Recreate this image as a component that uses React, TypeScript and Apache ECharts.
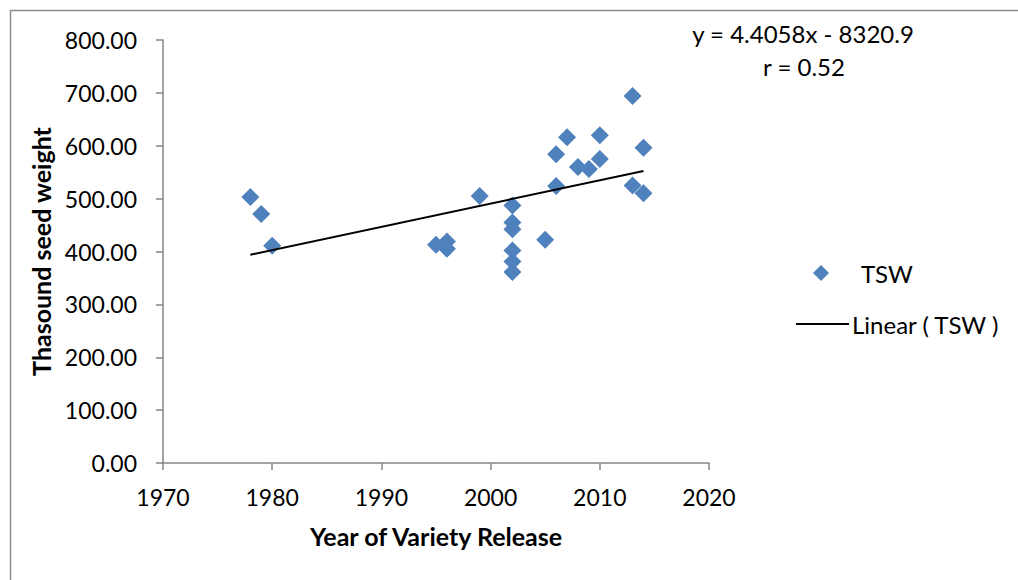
import React, { useEffect, useRef } from "react";
import * as echarts from "echarts";

// Release year of each variety and its thousand seed weight (g)
const releaseYears = [
  1978, 1979, 1980, 1995, 1996, 1996, 1999, 2002, 2002, 2002, 2002, 2002, 2002,
  2005, 2006, 2006, 2007, 2008, 2009, 2010, 2010, 2013, 2013, 2014, 2014,
];
const seedWeights = [
  503, 471, 411, 413, 419, 405, 505, 487, 455, 442, 402, 381, 361,
  422, 524, 584, 616, 560, 556, 575, 620, 694, 525, 596, 510,
];

// Linear trend fitted to the points
const trendSlope = 4.4058;
const trendIntercept = -8320.9;
const correlation = 0.52;

const FONT = "Lato, 'Open Sans', sans-serif";
const AXIS_GRAY = "#868686";
const MARKER_BLUE = "#4F81BD";

export default function App() {
  const ref = useRef<HTMLDivElement>(null);

  useEffect(() => {
    if (!ref.current) return;
    const chart = echarts.init(ref.current, undefined, { renderer: "svg" });

    const points = releaseYears.map((y, i) => [y, seedWeights[i]]);
    const x0 = Math.min(...releaseYears);
    const x1 = Math.max(...releaseYears);
    const trend = [x0, x1].map((x) => [x, trendSlope * x + trendIntercept]);

    const titleStyle = { fontFamily: FONT, fontWeight: "bold", fontSize: 25, color: "#000" };

    chart.setOption({
      animation: false,
      backgroundColor: "#ffffff",
      textStyle: { fontFamily: FONT },
      grid: { left: 163, top: 40, width: 546, height: 423, containLabel: false },
      xAxis: {
        type: "value",
        min: 1970,
        max: 2020,
        interval: 10,
        name: "Year of Variety Release",
        nameLocation: "middle",
        nameGap: 60,
        nameTextStyle: titleStyle,
        axisLine: { show: true, onZero: false, lineStyle: { color: AXIS_GRAY, width: 1.5 } },
        axisTick: { show: true, inside: false, length: 7, lineStyle: { color: AXIS_GRAY, width: 1.5 } },
        axisLabel: {
          margin: 22,
          fontSize: 23,
          color: "#000",
          fontFamily: FONT,
          formatter: (v: number) => String(v),
        },
        splitLine: { show: false },
      },
      yAxis: {
        type: "value",
        min: 0,
        max: 800,
        interval: 100,
        name: "Thasound seed weight",
        nameLocation: "middle",
        nameRotate: 90,
        nameGap: 108,
        nameTextStyle: titleStyle,
        axisLine: { show: true, lineStyle: { color: AXIS_GRAY, width: 1.5 } },
        axisTick: { show: true, inside: false, length: 7, lineStyle: { color: AXIS_GRAY, width: 1.5 } },
        axisLabel: {
          margin: 26,
          fontSize: 23,
          color: "#000",
          fontFamily: FONT,
          formatter: (v: number) => v.toFixed(2),
        },
        splitLine: { show: false },
      },
      legend: [
        {
          orient: "vertical",
          left: 813,
          top: 261,
          padding: 0,
          data: [{ name: "TSW", icon: "diamond" }],
          itemWidth: 16,
          itemHeight: 16,
          textStyle: { fontFamily: FONT, fontSize: 24, color: "#000", padding: [0, 0, 0, 27] },
          selectedMode: false,
        },
        {
          orient: "vertical",
          left: 796,
          top: 312,
          padding: 0,
          data: [{ name: "Linear ( TSW )", icon: "rect" }],
          itemWidth: 53,
          itemHeight: 2,
          itemStyle: { color: "#000" },
          textStyle: { fontFamily: FONT, fontSize: 24, color: "#000", padding: [0, 0, 0, -2] },
          selectedMode: false,
        },
      ],
      graphic: [
        {
          type: "rect",
          silent: true,
          shape: { x: 10.5, y: 10.5, width: 1100, height: 700 },
          style: { fill: "none", stroke: "#8c8c8c", lineWidth: 1.5 },
        },
        {
          type: "text",
          x: 803,
          y: 33,
          style: {
            text: `y = ${trendSlope}x - ${Math.abs(trendIntercept)}`,
            fontFamily: FONT,
            fontSize: 24,
            fill: "#000",
            textAlign: "center",
            textVerticalAlign: "middle",
          },
        },
        {
          type: "text",
          x: 804,
          y: 66,
          style: {
            text: `r = ${correlation}`,
            fontFamily: FONT,
            fontSize: 24,
            fill: "#000",
            textAlign: "center",
            textVerticalAlign: "middle",
          },
        },
      ],
      series: [
        {
          name: "TSW",
          type: "scatter",
          symbol: "diamond",
          symbolSize: 18,
          itemStyle: { color: MARKER_BLUE, opacity: 1 },
          data: points,
          z: 2,
        },
        {
          name: "Linear ( TSW )",
          type: "line",
          symbol: "none",
          lineStyle: { color: "#000", width: 2 },
          itemStyle: { color: "#000" },
          data: trend,
          z: 3,
        },
      ],
    });

    return () => chart.dispose();
  }, []);

  return (
    <div
      ref={ref}
      style={{ position: "fixed", left: 0, top: 0, width: 1018, height: 580 }}
    />
  );
}
